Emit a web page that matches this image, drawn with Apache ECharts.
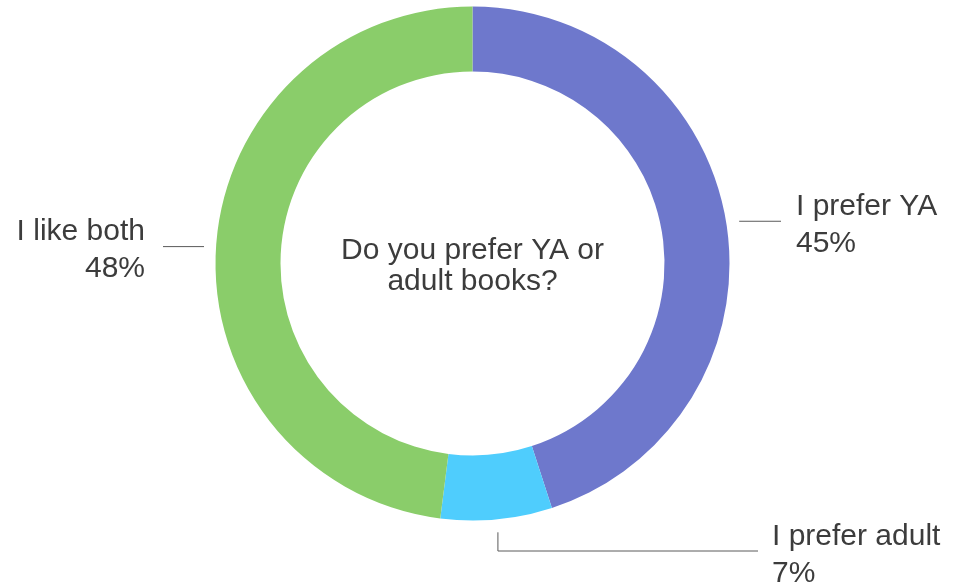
<!DOCTYPE html>
<html>
<head>
<meta charset="utf-8">
<title>Do you prefer YA or adult books?</title>
<script src="https://cdn.jsdelivr.net/npm/echarts@6/dist/echarts.min.js"></script>
<style>
  html, body { margin: 0; padding: 0; background: #ffffff; }
  #chart { width: 977px; height: 587px; }
</style>
</head>
<body>
<div id="chart"></div>
<script>
// Poll answers (percent of respondents)
const categories = ['I prefer YA', 'I prefer adult', 'I like both'];
const shares = [45, 7, 48];
const sliceColors = ['#6e78cc', '#4fcdfd', '#8acd6a'];
const question = 'Do you prefer YA or\nadult books?';

// Ring geometry
const CX = 472.5, CY = 263.5;
const R_IN = 192, R_OUT = 257;
const FONT = '"Liberation Sans", Arial, Helvetica, sans-serif';
const TEXT_COLOR = '#3c3c3c';

// Where each label sits relative to its slice
const placements = [
  { kind: 'right', gap: 13, lineEndX: 781, textX: 796 },
  { kind: 'elbow', gap: 13, elbowY: 551, lineEndX: 758, textX: 772 },
  { kind: 'left',  gap: 12, lineEndX: 163, textX: 145 }
];
const LABEL_DY = 4; // text block sits slightly below its leader line

const total = shares.reduce((a, b) => a + b, 0);
function midAngle(i) {
  let before = 0;
  for (let k = 0; k < i; k++) before += shares[k];
  return (before + shares[i] / 2) / total * Math.PI * 2; // clockwise from 12 o'clock
}
function polar(r, a) {
  return [CX + r * Math.sin(a), CY - r * Math.cos(a)];
}

const chart = echarts.init(document.getElementById('chart'), null, { renderer: 'canvas' });

chart.setOption({
  backgroundColor: '#ffffff',
  animation: false,
  graphic: [{
    type: 'text',
    x: CX,
    y: CY + 3,
    style: {
      text: question,
      align: 'center',
      verticalAlign: 'middle',
      fontFamily: FONT,
      fontSize: 30,
      lineHeight: 31,
      fill: TEXT_COLOR
    }
  }],
  series: [{
    type: 'pie',
    center: [CX, CY],
    radius: [R_IN, R_OUT],
    startAngle: 90,
    clockwise: true,
    avoidLabelOverlap: false,
    silent: true,
    itemStyle: { borderWidth: 0 },
    label: {
      show: true,
      position: 'outside',
      formatter: '{b}\n{c}%',
      fontFamily: FONT,
      fontSize: 30,
      lineHeight: 37,
      color: TEXT_COLOR
    },
    labelLine: {
      show: true,
      lineStyle: { color: '#5a5a5a', width: 1 }
    },
    labelLayout: function (params) {
      const i = params.dataIndex;
      const p = placements[i];
      const a = midAngle(i);
      const p0 = polar(R_OUT + p.gap, a);
      if (p.kind === 'elbow') {
        return {
          x: p.textX, y: p.elbowY + LABEL_DY, align: 'left', verticalAlign: 'middle',
          labelLinePoints: [p0, [p0[0], p.elbowY], [p.lineEndX, p.elbowY]]
        };
      }
      return {
        x: p.textX, y: p0[1] + LABEL_DY,
        align: p.kind === 'right' ? 'left' : 'right',
        verticalAlign: 'middle',
        labelLinePoints: [p0, p0.slice(), [p.lineEndX, p0[1]]]
      };
    },
    data: categories.map((name, i) => ({
      name: name,
      value: shares[i],
      itemStyle: { color: sliceColors[i] }
    }))
  }]
});
</script>
</body>
</html>
